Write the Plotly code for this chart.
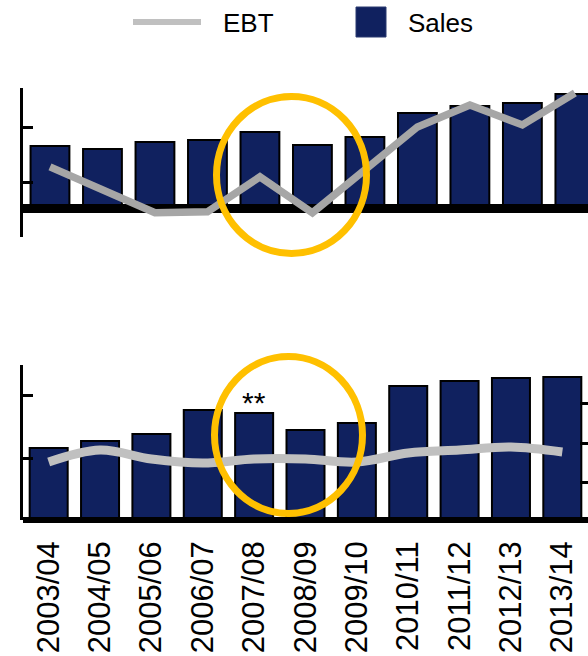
import plotly.graph_objects as go

# ---------------- data ----------------
years = ["2003/04", "2004/05", "2005/06", "2006/07", "2007/08", "2008/09",
         "2009/10", "2010/11", "2011/12", "2012/13", "2013/14"]
sales_top = [63, 60, 67, 69, 77, 64, 72, 96, 103, 106, 115]
ebt_top = [42, 19, -4, -3, 32, -4, 39, 82, 104, 84, 116]
sales_bottom = [72, 79, 86, 110, 107, 90, 97, 134, 139, 142, 143]
ebt_bottom = [58, 70, 61, 57, 61, 61, 58, 67, 70, 73, 68]
top_ticks = [-28, 26, 81]
bottom_left_ticks = [62, 125]
bottom_right_ticks = [38, 77, 117, 156]
series_names = ["EBT", "Sales"]
note_mark = "**"
note_index = 4

# ---------------- style ----------------
W, H = 588, 656
NAVY = "#10215f"
GRAY_TOP = "#a6a6a6"
GRAY_BOT = "#c0c0c0"
GOLD = "#ffc000"
FONT = "Liberation Sans, Arial, sans-serif"


def px_x(v):
    return v / W


def px_y(v):
    return 1 - v / H


fig = go.Figure()

# top panel: bars (x / y)
fig.add_trace(go.Bar(x=years, y=sales_top, name=series_names[1], xaxis="x", yaxis="y",
                     marker=dict(color=NAVY, line=dict(color="black", width=2)),
                     showlegend=False))
# top panel: EBT line (x2 / y2) drawn above baseline
fig.add_trace(go.Scatter(x=years, y=ebt_top, name=series_names[0], xaxis="x2", yaxis="y2",
                         mode="lines", line=dict(color=GRAY_TOP, width=7.5),
                         showlegend=False))
# bottom panel: bars (x3 / y3)
fig.add_trace(go.Bar(x=years, y=sales_bottom, name=series_names[1], xaxis="x3", yaxis="y3",
                     marker=dict(color=NAVY, line=dict(color="black", width=2)),
                     showlegend=False))
# bottom panel: EBT line (x4 / y4)
fig.add_trace(go.Scatter(x=years, y=ebt_bottom, name=series_names[0], xaxis="x4", yaxis="y4",
                         mode="lines", line=dict(color=GRAY_BOT, width=9, shape="spline", smoothing=1.0),
                         showlegend=False))

hidden_x = dict(visible=False, type="category", fixedrange=True)

fig.update_layout(
    width=W, height=H,
    margin=dict(l=0, r=0, t=0, b=0),
    paper_bgcolor="white",
    plot_bgcolor="rgba(0,0,0,0)",
    font=dict(family=FONT, color="black"),
    bargap=0.26,
    showlegend=False,
    xaxis=dict(hidden_x, domain=[px_x(23), 1], range=[-0.514, 10.25], anchor="y"),
    yaxis=dict(domain=[px_y(237), px_y(88)], range=[-28.3, 121], anchor="x",
               showline=True, linecolor="black", linewidth=3,
               ticks="inside", ticklen=10, tickwidth=2.5, tickcolor="black",
               tickmode="array", tickvals=top_ticks, showticklabels=False,
               showgrid=False, zeroline=False),
    xaxis2=dict(hidden_x, domain=[px_x(23), 1], range=[-0.514, 10.25], anchor="y2"),
    yaxis2=dict(domain=[px_y(237), px_y(88)], range=[-28.3, 121], anchor="x2",
                showline=False, ticks="", showticklabels=False, showgrid=False,
                zeroline=True, zerolinecolor="black", zerolinewidth=9),
    xaxis3=dict(type="category", domain=[px_x(23), 1], range=[-0.5, 10.5], anchor="y3",
                showline=False, ticks="", showgrid=False,
                tickangle=-90, tickfont=dict(size=31, family=FONT, color="black"),
                ticklabelstandoff=14),
    yaxis3=dict(domain=[px_y(520), px_y(365)], range=[0, 155], anchor="x3",
                showline=True, linecolor="black", linewidth=3,
                ticks="inside", ticklen=10, tickwidth=2.5, tickcolor="black",
                tickmode="array", tickvals=bottom_left_ticks, showticklabels=False,
                showgrid=False, zeroline=False),
    xaxis4=dict(hidden_x, domain=[px_x(23), 1], range=[-0.5, 10.5], anchor="y4"),
    yaxis4=dict(domain=[px_y(524), px_y(363)], range=[-4, 157], anchor="x4", side="right",
                showline=False, ticks="inside", ticklen=8, tickwidth=2.5, tickcolor="black",
                tickmode="array", tickvals=bottom_right_ticks, showticklabels=False,
                showgrid=False, zeroline=True, zerolinecolor="black", zerolinewidth=6),
)

# highlight circles
fig.add_shape(type="circle", xref="paper", yref="paper",
              x0=px_x(216.5), x1=px_x(366.5), y0=px_y(253.5), y1=px_y(96.5),
              line=dict(color=GOLD, width=7), layer="above")
fig.add_shape(type="circle", xref="paper", yref="paper",
              x0=px_x(214.5), x1=px_x(362.5), y0=px_y(513.5), y1=px_y(356.5),
              line=dict(color=GOLD, width=7), layer="above")

# note above bar
fig.add_annotation(x=years[note_index], y=sales_bottom[note_index], xref="x3", yref="y3",
                   text=note_mark, showarrow=False, yanchor="bottom", yshift=-8,
                   font=dict(size=30, family=FONT, color="black"))

# manual legend
fig.add_shape(type="line", xref="paper", yref="paper",
              x0=px_x(133), x1=px_x(201), y0=px_y(22), y1=px_y(22),
              line=dict(color=GRAY_BOT, width=6))
fig.add_shape(type="rect", xref="paper", yref="paper",
              x0=px_x(356), x1=px_x(386), y0=px_y(37), y1=px_y(7),
              fillcolor=NAVY, line=dict(color="#2a3a70", width=1))
fig.add_annotation(x=px_x(221), y=px_y(23), xref="paper", yref="paper", text=series_names[0],
                   showarrow=False, xanchor="left", yanchor="middle",
                   font=dict(size=26, family=FONT, color="black"))
fig.add_annotation(x=px_x(406), y=px_y(23), xref="paper", yref="paper", text=series_names[1],
                   showarrow=False, xanchor="left", yanchor="middle",
                   font=dict(size=26, family=FONT, color="black"))

fig.write_html("out.html")
